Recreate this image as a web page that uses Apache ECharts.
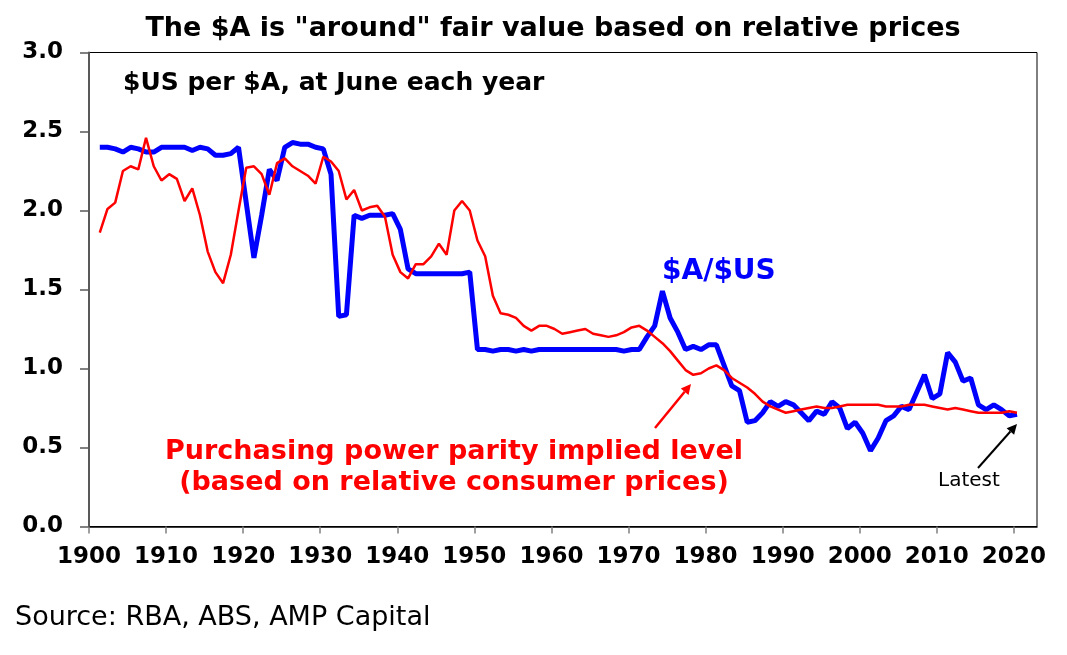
<!DOCTYPE html>
<html>
<head>
<meta charset="utf-8">
<script src="https://cdn.jsdelivr.net/npm/echarts@6/dist/echarts.min.js"></script>
<style>
  html, body { margin: 0; padding: 0; background: #fff; }
  #chart { width: 1067px; height: 655px; }
</style>
</head>
<body>
<div id="chart"></div>
<script>
// data ($US per $A, June each year)
const firstYear = 1901;
const audUsd = [
  2.40, 2.40, 2.39, 2.37, 2.40, 2.39, 2.37, 2.37, 2.40, 2.40,
  2.40, 2.40, 2.38, 2.40, 2.39, 2.35, 2.35, 2.36, 2.40, 2.05,
  1.70, 1.97, 2.26, 2.19, 2.40, 2.43, 2.42, 2.42, 2.40, 2.39,
  2.23, 1.33, 1.34, 1.97, 1.95, 1.97, 1.97, 1.97, 1.98, 1.88,
  1.63, 1.60, 1.60, 1.60, 1.60, 1.60, 1.60, 1.60, 1.61, 1.12,
  1.12, 1.11, 1.12, 1.12, 1.11, 1.12, 1.11, 1.12, 1.12, 1.12,
  1.12, 1.12, 1.12, 1.12, 1.12, 1.12, 1.12, 1.12, 1.11, 1.12,
  1.12, 1.20, 1.27, 1.49, 1.32, 1.23, 1.12, 1.14, 1.12, 1.15,
  1.15, 1.02, 0.89, 0.86, 0.66, 0.67, 0.72, 0.79, 0.76, 0.79,
  0.77, 0.72, 0.67, 0.73, 0.71, 0.79, 0.75, 0.62, 0.66, 0.59,
  0.48, 0.56, 0.67, 0.70, 0.76, 0.74, 0.85, 0.96, 0.81, 0.84,
  1.10, 1.04, 0.92, 0.94, 0.77, 0.74, 0.77, 0.74, 0.70, 0.71
];
const pppLevel = [
  1.86, 2.01, 2.05, 2.25, 2.28, 2.26, 2.46, 2.28, 2.19, 2.23,
  2.20, 2.06, 2.14, 1.97, 1.74, 1.61, 1.54, 1.72, 2.00, 2.27,
  2.28, 2.23, 2.10, 2.30, 2.33, 2.28, 2.25, 2.22, 2.17, 2.34,
  2.31, 2.25, 2.07, 2.13, 2.00, 2.02, 2.03, 1.96, 1.72, 1.61,
  1.57, 1.66, 1.66, 1.71, 1.79, 1.72, 2.00, 2.06, 2.00, 1.81,
  1.71, 1.46, 1.35, 1.34, 1.32, 1.27, 1.24, 1.27, 1.27, 1.25,
  1.22, 1.23, 1.24, 1.25, 1.22, 1.21, 1.20, 1.21, 1.23, 1.26,
  1.27, 1.24, 1.20, 1.16, 1.11, 1.05, 0.99, 0.96, 0.97, 1.00,
  1.02, 0.99, 0.94, 0.91, 0.88, 0.84, 0.79, 0.76, 0.74, 0.72,
  0.73, 0.74, 0.75, 0.76, 0.75, 0.75, 0.76, 0.77, 0.77, 0.77,
  0.77, 0.77, 0.76, 0.76, 0.76, 0.77, 0.77, 0.77, 0.76, 0.75,
  0.74, 0.75, 0.74, 0.73, 0.72, 0.72, 0.72, 0.72, 0.73, 0.72
];
const xTicks = [1900, 1910, 1920, 1930, 1940, 1950, 1960, 1970, 1980, 1990, 2000, 2010, 2020];
const yTicks = [0, 0.5, 1, 1.5, 2, 2.5, 3];

const FONT = 'DejaVu Sans';
const JUNE = 0.4; // observations taken in June

const toPoints = (vals) => vals.map((v, i) => [firstYear + i + JUNE, v]);

// arrow helper for the annotations
function arrow(x1, y1, x2, y2, color, width) {
    const ang = Math.atan2(y2 - y1, x2 - x1);
    const len = 10, half = 5;
    const bx = x2 - len * Math.cos(ang), by = y2 - len * Math.sin(ang);
    const px = -Math.sin(ang) * half, py = Math.cos(ang) * half;
    return [
        { type: 'line', z: 100, shape: { x1: x1, y1: y1, x2: bx, y2: by },
          style: { stroke: color, lineWidth: width } },
        { type: 'polygon', z: 100,
          shape: { points: [[x2, y2], [bx + px, by + py], [bx - px, by - py]] },
          style: { fill: color } }
    ];
}

function label(x, y, text, size, color, bold, align) {
    return {
        type: 'text', x: x, y: y, z: 100,
        style: {
            text: text, fill: color, fontFamily: FONT, fontSize: size,
            fontWeight: bold ? 'bold' : 'normal',
            align: align || 'left', verticalAlign: 'middle', lineHeight: 31
        }
    };
}

const getOption = () => {
    return {
        animation: false,
        backgroundColor: '#fff',
        grid: {
            left: 89, right: 30, top: 52.5, bottom: 128.5,
            show: true, borderColor: '#000', borderWidth: 1
        },
        xAxis: {
            type: 'value',
            min: 1900,
            max: 2023,
            interval: 10,
            splitLine: { show: false },
            axisLine: { show: true, onZero: false, lineStyle: { color: '#000', width: 1.5 } },
            axisTick: { show: true, length: 7, customValues: xTicks, lineStyle: { color: '#808080', width: 1.5 } },
            axisLabel: {
                customValues: xTicks,
                margin: 19,
                formatter: (v) => String(v),
                fontFamily: FONT, fontWeight: 'bold', fontSize: 23, color: '#000'
            }
        },
        yAxis: {
            type: 'value',
            min: 0,
            max: 3,
            interval: 0.5,
            splitLine: { show: false },
            axisLine: { show: true, lineStyle: { color: '#595959', width: 2 } },
            axisTick: { show: true, length: 9, customValues: yTicks, lineStyle: { color: '#595959', width: 1.5 } },
            axisLabel: {
                customValues: yTicks,
                margin: 26,
                formatter: (v) => v.toFixed(1),
                fontFamily: FONT, fontWeight: 'bold', fontSize: 23, color: '#000'
            }
        },
        series: [
            {
                name: '$A/$US',
                type: 'line',
                data: toPoints(audUsd),
                showSymbol: false,
                lineStyle: { color: '#0000ff', width: 5 },
                z: 2
            },
            {
                name: 'PPP',
                type: 'line',
                data: toPoints(pppLevel),
                showSymbol: false,
                lineStyle: { color: '#ff0000', width: 2.5 },
                z: 3
            }
        ],
        graphic: [
            label(553, 29, 'The $A is "around" fair value based on relative prices', 27, '#000', true, 'center'),
            label(123, 83, '$US per $A, at June each year', 25, '#000', true),
            label(662, 272, '$A/$US', 28, '#0000ff', true),
            label(454, 467, 'Purchasing power parity implied level\n(based on relative consumer prices)', 27, '#ff0000', true, 'center'),
            label(938, 481, 'Latest', 20, '#000', false),
            label(15, 618, 'Source: RBA, ABS, AMP Capital', 27, '#000', false)
        ].concat(arrow(655, 428, 691, 384, '#ff0000', 2.5), arrow(978, 468, 1017, 424, '#000', 2))
    };
};

let chart;
function initChart() {
    chart = echarts.init(document.getElementById('chart'));
    chart.setOption(getOption());
}

document.addEventListener('DOMContentLoaded', function () {
    initChart();
});
</script>
</body>
</html>
